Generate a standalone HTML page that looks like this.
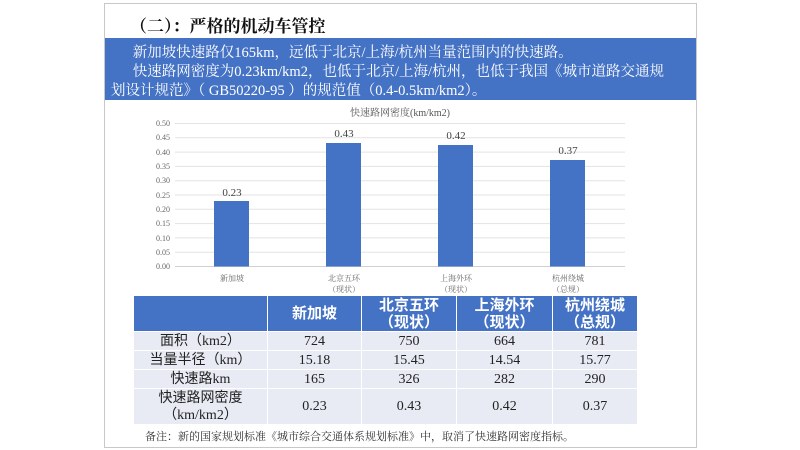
<!DOCTYPE html>
<html><head><meta charset="utf-8"><style>
body{margin:0;width:800px;height:450px;background:#fff;position:relative;overflow:hidden;font-family:"Liberation Serif","Noto Serif CJK SC",serif;}
.frame{position:absolute;left:104px;top:3px;width:591px;height:443px;border:1px solid #c8c8c8;}
.title{position:absolute;left:130px;top:12px;font-size:17px;font-weight:bold;color:#111;font-family:"Liberation Serif","Noto Serif CJK SC",serif;}
.box{position:absolute;left:105px;top:38px;width:591px;height:62px;background:#4472c4;color:#fff;font-size:14.5px;line-height:19px;box-sizing:border-box;padding:6px 6px 0 6px;}
table{position:absolute;left:133px;top:295px;width:505px;border-collapse:collapse;font-family:"Liberation Serif","Noto Sans CJK SC",serif;}
td,th{border:1px solid #fff;text-align:center;padding:0;font-size:14px;color:#222;line-height:17px;}
th{background:#4472c4;color:#fff;font-weight:bold;font-size:15px;height:35px;line-height:17px;font-family:"Liberation Sans","Noto Sans CJK SC",sans-serif;}
td{background:#e8ebf4;height:18px;}
.note{position:absolute;left:145px;top:428px;font-size:11px;color:#333;}
</style></head><body>
<div class="frame"></div>
<div class="title">（二）：严格的机动车管控</div>
<div class="box">&emsp;&ensp;新加坡快速路仅165km，远低于北京/上海/杭州当量范围内的快速路。<br>&emsp;&ensp;快速路网密度为0.23km/km2，也低于北京/上海/杭州，也低于我国《城市道路交通规<br>划设计规范》（ GB50220-95 ）的规范值（0.4-0.5km/km2）。</div>
<svg style="position:absolute;left:0;top:0" width="800" height="450" font-family="Liberation Serif, Noto Serif CJK SC, serif">
<text x="400" y="116" text-anchor="middle" font-size="10" fill="#555">快速路网密度(km/km2)</text>
<g stroke="#e3e3e3" stroke-width="1">
<line x1="175" x2="625" y1="123.5" y2="123.5"/><line x1="175" x2="625" y1="137.8" y2="137.8"/><line x1="175" x2="625" y1="152.1" y2="152.1"/><line x1="175" x2="625" y1="166.4" y2="166.4"/><line x1="175" x2="625" y1="180.7" y2="180.7"/><line x1="175" x2="625" y1="195" y2="195"/><line x1="175" x2="625" y1="209.3" y2="209.3"/><line x1="175" x2="625" y1="223.6" y2="223.6"/><line x1="175" x2="625" y1="237.9" y2="237.9"/><line x1="175" x2="625" y1="252.2" y2="252.2"/><line x1="175" x2="625" y1="266.5" y2="266.5" stroke="#d0d0d0"/>
</g>
<g font-size="8" fill="#666" text-anchor="end">
<text x="170" y="126">0.50</text><text x="170" y="140">0.45</text><text x="170" y="155">0.40</text><text x="170" y="169">0.35</text><text x="170" y="183">0.30</text><text x="170" y="198">0.25</text><text x="170" y="212">0.20</text><text x="170" y="226">0.15</text><text x="170" y="241">0.10</text><text x="170" y="255">0.05</text><text x="170" y="269">0.00</text>
</g>
<g fill="#4472c4">
<rect x="214" y="201" width="35" height="65.5"/>
<rect x="326" y="143" width="35" height="123.5"/>
<rect x="438" y="145" width="35" height="121.5"/>
<rect x="550" y="160" width="35" height="106.5"/>
</g>
<g font-size="11" fill="#444" text-anchor="middle">
<text x="232" y="196">0.23</text><text x="344" y="137">0.43</text><text x="456" y="139">0.42</text><text x="568" y="154">0.37</text>
</g>
<g font-size="8" fill="#666" text-anchor="middle">
<text x="232" y="281">新加坡</text>
<text x="344" y="281">北京五环</text><text x="344" y="292">（现状）</text>
<text x="456" y="281">上海外环</text><text x="456" y="292">（现状）</text>
<text x="568" y="281">杭州绕城</text><text x="568" y="292">（总规）</text>
</g>
</svg>
<table>
<tr><th style="width:133px"></th><th style="width:93px">新加坡</th><th style="width:94px">北京五环<br>（现状）</th><th style="width:95px">上海外环<br>（现状）</th><th>杭州绕城<br>（总规）</th></tr>
<tr><td>面积（km2）</td><td>724</td><td>750</td><td>664</td><td>781</td></tr>
<tr><td>当量半径（km）</td><td>15.18</td><td>15.45</td><td>14.54</td><td>15.77</td></tr>
<tr><td>快速路km</td><td>165</td><td>326</td><td>282</td><td>290</td></tr>
<tr><td style="height:35px">快速路网密度<br>（km/km2）</td><td>0.23</td><td>0.43</td><td>0.42</td><td>0.37</td></tr>
</table>
<div class="note">备注：新的国家规划标准《城市综合交通体系规划标准》中，取消了快速路网密度指标。</div>
</body></html>
